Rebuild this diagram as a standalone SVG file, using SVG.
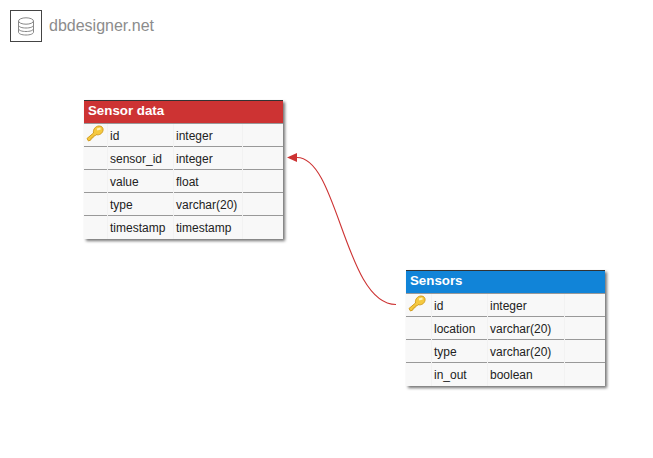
<svg xmlns="http://www.w3.org/2000/svg" width="653" height="458" viewBox="0 0 653 458">
<style>
text{font-family:"Liberation Sans",Arial,sans-serif}
.t{font-size:12px;fill:#222}
.h{font-size:13.300px;font-weight:bold;fill:#fff}
.body{fill:#f8f8f8}
.sep{stroke:#999;stroke-width:1;fill:none}
.col{stroke:#f2f2f2;stroke-width:1;fill:none}
</style>
<defs>
<filter id="sh" x="-10%" y="-10%" width="125%" height="125%"><feDropShadow dx="2" dy="2" stdDeviation="1.6" flood-color="#000" flood-opacity=".55"/></filter>
<marker id="arr" markerUnits="userSpaceOnUse" markerWidth="10" markerHeight="10" refX="0" refY="5" orient="auto"><path d="M0 .5L10 5L0 9.500Z" fill="#cd3333"/></marker>
<g id="key">
<path d="M2.500 16L1 13.500L7.500 8C6.800 4.500 9.500 1 13 1C16 1 17.500 3 17 5.500C16.300 8.800 13 10.500 10 9.600L8.800 11L7.300 11.200L7 12.800L5.300 13L5 14.800Z" fill="#f5c93f" stroke="#d39c1c" stroke-width="1"/>
<path d="M11 4.500L14.500 3.500" stroke="#fff3b5" stroke-width="2" fill="none"/>
</g>
</defs>
<g id="logo">
<rect x="10.500" y="10.500" width="31" height="31" fill="#fff" stroke="#444"/>
<g fill="none" stroke="#888" stroke-width="1">
<ellipse cx="26" cy="21" rx="7.500" ry="3.200"/>
<path d="M18.500 21V32C18.500 34 22 35 26 35S33.500 34 33.500 32V21M18.500 25C18.500 27 22 28 26 28S33.500 27 33.500 25M18.500 28.500C18.500 30.500 22 31.500 26 31.500S33.500 30.500 33.500 28.500"/>
</g>
<text x="49" y="31" font-size="16" fill="#8c8c8c">dbdesigner.net</text>
</g>
<g id="connectors">
<path d="M396 304.500C345 304.500 338 157.500 297 157.500" fill="none" stroke="#cd3333" stroke-width="1.100" marker-end="url(#arr)"/>
</g>
<g id="sensor-data">
<rect x="84" y="100" width="199" height="139" class="body" filter="url(#sh)"/>
<rect x="84" y="100" width="199" height="23" fill="#cd3333"/>
<path d="M84 100.500H283" stroke="#333" fill="none"/>
<path class="sep" d="M84 123.500H283M84 146.500H283M84 169.500H283M84 192.500H283M84 215.500H283"/>
<path class="col" d="M107.500 124V239M173.500 124V239M242.500 124V239"/>
<text class="h" x="88" y="115">Sensor data</text>
<use href="#key" x="86" y="125"/>
<text class="t" x="110" y="140">id</text><text class="t" x="176" y="140">integer</text>
<text class="t" x="110" y="163">sensor_id</text><text class="t" x="176" y="163">integer</text>
<text class="t" x="110" y="186">value</text><text class="t" x="176" y="186">float</text>
<text class="t" x="110" y="209">type</text><text class="t" x="176" y="209">varchar(20)</text>
<text class="t" x="110" y="232">timestamp</text><text class="t" x="176" y="232">timestamp</text>
</g>
<g id="sensors">
<rect x="406" y="270" width="199" height="116" class="body" filter="url(#sh)"/>
<rect x="406" y="270" width="199" height="23" fill="#1184d8"/>
<path d="M406 270.500H605" stroke="#333" fill="none"/>
<path class="sep" d="M406 293.500H605M406 316.500H605M406 339.500H605M406 362.500H605"/>
<path class="col" d="M431.500 294V386M487.500 294V386M564.500 294V386"/>
<text class="h" x="410" y="285">Sensors</text>
<use href="#key" x="408" y="295"/>
<text class="t" x="434" y="310">id</text><text class="t" x="490" y="310">integer</text>
<text class="t" x="434" y="333">location</text><text class="t" x="490" y="333">varchar(20)</text>
<text class="t" x="434" y="356">type</text><text class="t" x="490" y="356">varchar(20)</text>
<text class="t" x="434" y="379">in_out</text><text class="t" x="490" y="379">boolean</text>
</g>
</svg>
